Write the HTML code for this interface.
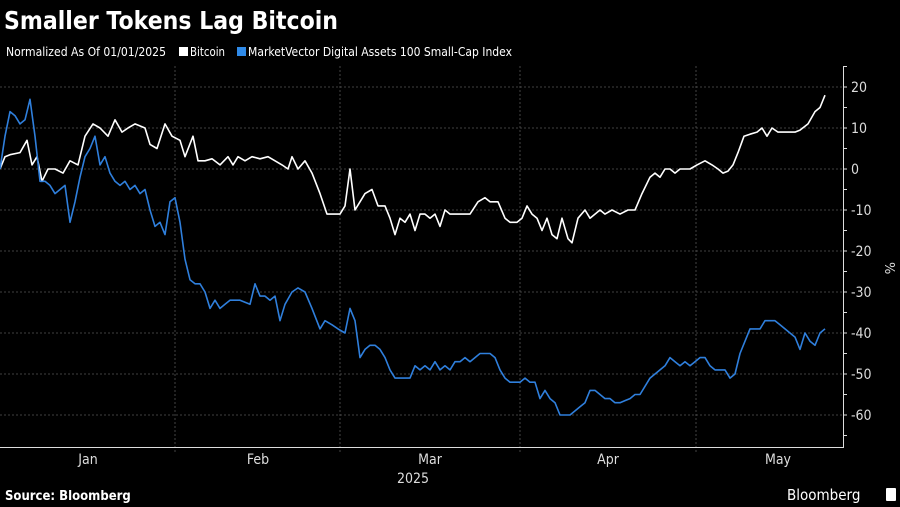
<!DOCTYPE html>
<html><head><meta charset="utf-8"><style>
body{margin:0;background:#000;width:900px;height:507px;overflow:hidden;font-family:"Liberation Sans",sans-serif;}
</style></head><body>
<svg width="900" height="507" viewBox="0 0 900 507" xmlns="http://www.w3.org/2000/svg" style="position:absolute;left:0;top:0">
<text x="4" y="29" fill="#fff" font-size="25" font-weight="bold" font-family="DejaVu Sans, Liberation Sans, sans-serif" textLength="334" lengthAdjust="spacingAndGlyphs">Smaller Tokens Lag Bitcoin</text>
<text x="6" y="56" fill="#fff" font-size="12.5" font-family="DejaVu Sans Condensed, Liberation Sans Narrow, sans-serif" textLength="160" lengthAdjust="spacingAndGlyphs">Normalized As Of 01/01/2025</text>
<rect x="179" y="47" width="9" height="9" fill="#fff"/>
<text x="190" y="56" fill="#fff" font-size="12.5" font-family="DejaVu Sans Condensed, Liberation Sans Narrow, sans-serif" textLength="35" lengthAdjust="spacingAndGlyphs">Bitcoin</text>
<rect x="237" y="47" width="9" height="9" fill="#2f8ae8"/>
<text x="248" y="56" fill="#fff" font-size="12.5" font-family="DejaVu Sans Condensed, Liberation Sans Narrow, sans-serif" textLength="264" lengthAdjust="spacingAndGlyphs">MarketVector Digital Assets 100 Small-Cap Index</text>
<g id="grid"></g>
<line x1="0" y1="447.5" x2="843" y2="447.5" stroke="#ddd" stroke-width="1"/>
<line x1="843.5" y1="66" x2="843.5" y2="448" stroke="#ddd" stroke-width="1"/>
<g fill="#ddd" font-size="14" font-family="DejaVu Sans Condensed, Liberation Sans Narrow, sans-serif" id="ylab"></g>
<text x="885" y="262" fill="#ddd" font-size="13" transform="rotate(90 885 262)" font-family="DejaVu Sans, sans-serif">%</text>
<g fill="#ddd" font-size="14" text-anchor="middle" font-family="DejaVu Sans Condensed, Liberation Sans Narrow, sans-serif">
<text x="88" y="464">Jan</text><text x="258" y="464">Feb</text><text x="430" y="464">Mar</text><text x="608" y="464">Apr</text><text x="778" y="464">May</text>
<text x="413" y="483">2025</text></g>
<polyline id="btc" fill="none" stroke="#fff" stroke-width="1.6" stroke-linejoin="round"/>
<polyline id="sc" fill="none" stroke="#2f7fdc" stroke-width="1.6" stroke-linejoin="round"/>
<text x="5" y="500" fill="#fff" font-size="13" font-weight="bold" font-family="DejaVu Sans Condensed, Liberation Sans, sans-serif">Source: Bloomberg</text>
<text x="787" y="500" fill="#fff" font-size="15" font-family="DejaVu Sans Condensed, Liberation Sans, sans-serif">Bloomberg</text>
<rect x="886" y="488" width="10" height="13" fill="#fff" rx="1"/>
</svg>
<script>
const Y=v=>169-4.1*v;
let g='',yl='';
for(let v=20;v>=-60;v-=10){g+=`<line x1="0" y1="${Y(v)}" x2="843" y2="${Y(v)}" stroke="#555" stroke-width="0.8" stroke-dasharray="2,2"/>`;
yl+=`<text x="851" y="${Y(v)+5}">${v}</text>`;}
for(let v=25;v>=-65;v-=5){g+=`<line x1="843" y1="${Y(v)}" x2="847" y2="${Y(v)}" stroke="#ddd"/>`;}
[175,340,520,696].forEach(x=>{g+=`<line x1="${x}" y1="66" x2="${x}" y2="452" stroke="#555" stroke-width="0.8" stroke-dasharray="2,2"/>`});
document.getElementById('grid').innerHTML=g;document.getElementById('ylab').innerHTML=yl;
const b=[[0,0],[5,3],[10,3.5],[20,4],[27,7],[32,1],[37,3],[42,-3],[48,0],[55,0],[63,-1],[70,2],[78,1],[85,8],[93,11],[100,10],[108,8],[115,12],[122,9],[128,10],[135,11],[145,10],[150,6],[157,5],[165,11],[172,8],[180,7],[185,3],[193,8],[198,2],[205,2],[212,2.5],[220,1],[228,3],[233,1],[238,3],[245,2],[252,3],[260,2.5],[268,3],[275,2],[282,1],[288,0],[292,3],[298,0],[305,2],[312,-1],[320,-6],[327,-11],[335,-11],[340,-11],[345,-9],[350,0],[355,-10],[360,-8],[365,-6],[372,-5],[378,-9],[385,-9],[390,-12],[395,-16],[400,-12],[405,-13],[410,-11],[415,-15],[420,-11],[425,-11],[430,-12],[435,-11],[440,-14],[445,-10],[450,-11],[455,-11],[462,-11],[470,-11],[478,-8],[485,-7],[490,-8],[498,-8],[505,-12],[510,-13],[517,-13],[522,-12],[527,-9],[532,-11],[537,-12],[542,-15],[547,-12],[552,-16],[557,-17],[562,-12],[568,-17],[572,-18],[578,-12],[585,-10],[590,-12],[595,-11],[600,-10],[605,-11],[612,-10],[620,-11],[628,-10],[635,-10],[642,-6],[650,-2],[655,-1],[660,-2],[665,0],[670,0],[675,-1],[680,0],[690,0],[697,1],[705,2],[712,1],[718,0],[723,-1],[728,-0.5],[733,1],[738,4],[744,8],[750,8.5],[757,9],[762,10],[767,8],[772,10],[778,9],[785,9],[795,9],[800,9.5],[808,11],[815,14],[820,15],[825,18]];
const s=[[0,0],[5,8],[10,14],[15,13],[20,11],[25,12],[30,17],[35,8],[40,-3],[45,-3],[50,-4],[55,-6],[60,-5],[65,-4],[70,-13],[75,-8],[80,-2],[85,3],[90,5],[95,8],[100,1],[105,3],[110,-1],[115,-3],[120,-4],[125,-3],[130,-5],[135,-4],[140,-6],[145,-5],[150,-10],[155,-14],[160,-13],[165,-16],[170,-8],[175,-7],[180,-13],[185,-22],[190,-27],[195,-28],[200,-28],[205,-30],[210,-34],[215,-32],[220,-34],[225,-33],[230,-32],[240,-32],[250,-33],[255,-28],[260,-31],[265,-31],[270,-32],[275,-31],[280,-37],[285,-33],[292,-30],[298,-29],[305,-30],[312,-34],[320,-39],[325,-37],[332,-38],[338,-39],[345,-40],[350,-34],[355,-37],[360,-46],[365,-44],[370,-43],[375,-43],[380,-44],[385,-46],[390,-49],[395,-51],[400,-51],[405,-51],[410,-51],[415,-48],[420,-49],[425,-48],[430,-49],[435,-47],[440,-49],[445,-48],[450,-49],[455,-47],[460,-47],[465,-46],[470,-47],[475,-46],[480,-45],[485,-45],[490,-45],[495,-46],[500,-49],[505,-51],[510,-52],[515,-52],[520,-52],[525,-51],[530,-52],[535,-52],[540,-56],[545,-54],[550,-56],[555,-57],[560,-60],[565,-60],[570,-60],[575,-59],[580,-58],[585,-57],[590,-54],[595,-54],[600,-55],[605,-56],[610,-56],[615,-57],[620,-57],[625,-56.5],[630,-56],[635,-55],[640,-55],[645,-53],[650,-51],[655,-50],[660,-49],[665,-48],[670,-46],[675,-47],[680,-48],[685,-47],[690,-48],[695,-47],[700,-46],[705,-46],[710,-48],[715,-49],[720,-49],[725,-49],[730,-51],[735,-50],[740,-45],[745,-42],[750,-39],[755,-39],[760,-39],[765,-37],[770,-37],[775,-37],[780,-38],[785,-39],[790,-40],[795,-41],[800,-44],[805,-40],[810,-42],[815,-43],[820,-40],[825,-39]];
const P=a=>a.map(p=>p[0]+','+Y(p[1]).toFixed(1)).join(' ');
document.getElementById('btc').setAttribute('points',P(b));
document.getElementById('sc').setAttribute('points',P(s));
</script>
</body></html>
